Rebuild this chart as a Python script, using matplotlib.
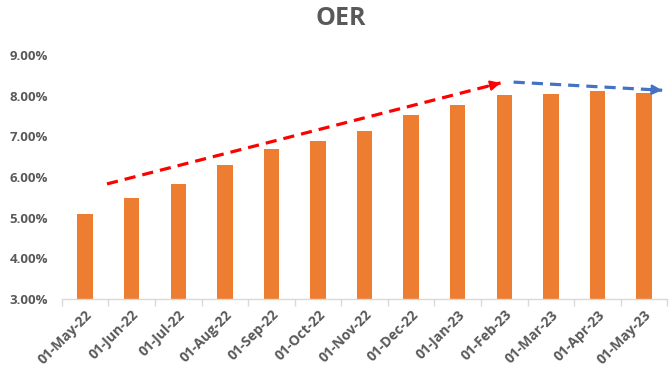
import numpy as np
import matplotlib.pyplot as plt
from matplotlib.ticker import PercentFormatter, FixedLocator

plt.rcParams['font.family'] = ['Open Sans', 'DejaVu Sans']

# Datos del gráfico
months = ['01-May-22', '01-Jun-22', '01-Jul-22', '01-Aug-22', '01-Sep-22', '01-Oct-22',
          '01-Nov-22', '01-Dec-22', '01-Jan-23', '01-Feb-23', '01-Mar-23', '01-Apr-23', '01-May-23']
oer = [5.10, 5.48, 5.83, 6.29, 6.69, 6.88, 7.13, 7.52, 7.77, 8.01, 8.04, 8.11, 8.06]

# Flechas de tendencia (x en índice de categoría, y en %)
up_trend_x = [0.47, 8.92]
up_trend_y = [5.83, 8.31]
flat_trend_x = [9.2, 12.39]
flat_trend_y = [8.33, 8.13]

gray = '#595959'

fig, ax = plt.subplots(figsize=(6.72, 3.73), dpi=100)
fig.subplots_adjust(left=0.092, right=0.993, bottom=0.198, top=0.853)

x = np.arange(len(months))
ax.bar(x, oer, width=0.33, color='#ED7D31', bottom=0, zorder=2)

ax.set_ylim(3, 9)
ax.set_xlim(-0.5, len(months) - 0.5)
ax.yaxis.set_major_formatter(PercentFormatter(decimals=2))
ax.set_yticks(np.arange(3, 9.01, 1))

# ticks entre categorías
ax.xaxis.set_major_locator(FixedLocator(np.arange(-0.5, len(months), 1)))
ax.xaxis.set_minor_locator(FixedLocator(x))
ax.set_xticklabels([])
ax.set_xticklabels(months, minor=True, rotation=45, ha='right', rotation_mode='anchor',
                   fontsize=10, fontweight='bold', color=gray)
ax.tick_params(axis='x', which='major', length=5, color='#D9D9D9', width=1)
ax.tick_params(axis='x', which='minor', length=0, pad=6)
ax.tick_params(axis='y', length=0, labelsize=9.5, labelcolor=gray, pad=10)
for lbl in ax.get_yticklabels():
    lbl.set_fontweight('bold')

for s in ['top', 'right', 'left']:
    ax.spines[s].set_visible(False)
ax.spines['bottom'].set_color('#D9D9D9')
ax.spines['bottom'].set_linewidth(1)

def dashed_arrow(xs, ys, color):
    ax.plot(xs, ys, color=color, lw=2.3, ls=(0, (3.5, 2.2)), zorder=3, clip_on=False)
    dx = xs[1] - xs[0]
    dy = ys[1] - ys[0]
    ax.annotate('', xy=(xs[1], ys[1]), xytext=(xs[1] - dx * 0.03, ys[1] - dy * 0.03),
                arrowprops=dict(arrowstyle='-|>,head_length=0.6,head_width=0.3',
                                color=color, lw=1.5, shrinkA=0, shrinkB=0),
                annotation_clip=False, zorder=4)

dashed_arrow(up_trend_x, up_trend_y, '#FF0000')
dashed_arrow(flat_trend_x, flat_trend_y, '#4472C4')

fig.text(0.507, 0.95, 'OER', fontsize=18, fontweight='bold', color=gray, ha='center', va='center')

plt.savefig('out.png', dpi=100)
